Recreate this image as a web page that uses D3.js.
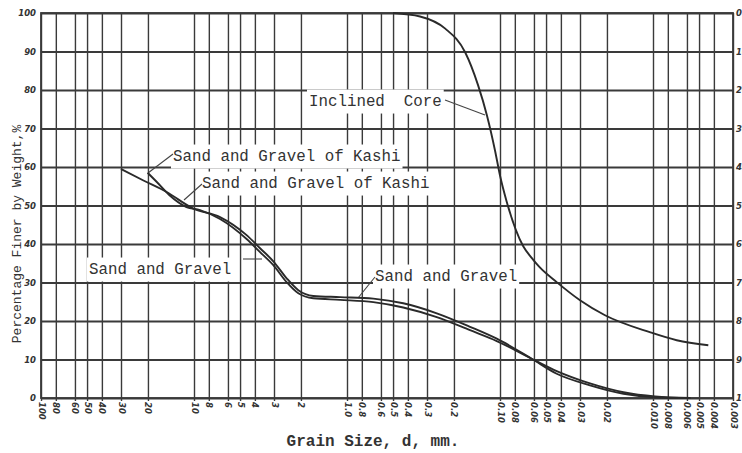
<!DOCTYPE html>
<html>
<head>
<meta charset="utf-8">
<script src="https://cdn.jsdelivr.net/npm/d3@7"></script>
<style>
  html, body { margin: 0; padding: 0; background: #fff; }
  svg { display: block; }
</style>
</head>
<body>
<svg id="chart" width="742" height="453"></svg>
<script>
// ---------- data ----------
const xTickValues = [100,80,60,50,40,30,20,10,8,6,5,4,3,2,1.0,0.8,0.6,0.5,0.4,0.3,0.2,0.10,0.08,0.06,0.05,0.04,0.03,0.02,0.010,0.008,0.006,0.005,0.004,0.003];
const xTickLabels = ["100","80","60","50","40","30","20","10","8","6","5","4","3","2","1.0","0.8","0.6","0.5","0.4","0.3","0.2","0.10","0.08","0.06","0.05","0.04","0.03","0.02","0.010","0.008","0.006","0.005","0.004","0.003"];
const yTickValues = [0,10,20,30,40,50,60,70,80,90,100];
const yRightLabels = ["100","90","80","70","60","50","40","30","20","10","0"];

const coreSize = [0.5, 0.333, 0.229, 0.169, 0.139, 0.1217, 0.1078, 0.1, 0.0904, 0.0705, 0.0621, 0.0555, 0.0426, 0.030, 0.0206, 0.0105, 0.0070, 0.00435];
const corePct  = [100, 99.1, 96.0, 89.8, 81.2, 73.4, 64.3, 57.8, 51.0, 39.4, 36.4, 34.1, 30.1, 25.4, 21.5, 17.1, 15.0, 13.7];

const kashiSize = [30, 21.4, 15.1, 10.1, 6.76, 4.53, 3.70, 3.03, 2.48, 2.08, 1.66, 1.11, 0.673, 0.429, 0.259, 0.157, 0.105, 0.0621, 0.0426, 0.0258, 0.0156, 0.0097, 0.0057];
const kashiPct  = [59.5, 56.5, 53.5, 49.2, 47.0, 42.3, 38.9, 35.5, 31.1, 28.0, 26.5, 26.2, 25.8, 24.6, 22.0, 18.5, 15.4, 10.2, 6.3, 3.3, 1.1, 0.2, 0];

const gravelSize = [20.1, 17.5, 14.4, 11.2, 9.14, 6.76, 4.53, 3.70, 3.03, 2.48, 2.08, 1.66, 1.11, 0.673, 0.429, 0.259, 0.157, 0.105, 0.0621, 0.0426, 0.0258, 0.0156, 0.0097, 0.0057];
const gravelPct  = [58.5, 56.1, 52.6, 49.6, 48.8, 46.5, 41.3, 37.9, 34.5, 30.1, 27.2, 25.9, 25.5, 24.9, 23.5, 21.0, 17.6, 14.8, 10.2, 7.0, 3.8, 1.5, 0.4, 0];

// ---------- layout ----------
const pLeft = 41, pRight = 733, pTop = 13, pBottom = 398;
const ink = "#3a3a3a";
const mono = "'Liberation Mono', 'DejaVu Sans Mono', monospace";
const tickFont = "italic 700 8.5px 'DejaVu Sans'";

const svg = d3.select("#chart");
const x = d3.scaleLog().domain([100, 0.003]).range([pLeft, pRight]);
const y = d3.scaleLinear().domain([0, 100]).range([pBottom, pTop]);

// vertical grid + bottom labels
const xAxis = d3.axisBottom(x).tickValues(xTickValues)
  .tickSize(-(pBottom - pTop)).tickSizeOuter(0)
  .tickFormat((d, i) => xTickLabels[i]);
const gx = svg.append("g").attr("transform", `translate(0,${pBottom})`).call(xAxis);
gx.select(".domain").remove();
gx.selectAll(".tick line").attr("stroke", ink).attr("stroke-width", 1.4).attr("y1", 3);
gx.selectAll(".tick text")
  .attr("transform", "rotate(90)")
  .attr("x", 4).attr("y", 0).attr("dy", "0.35em")
  .attr("text-anchor", "start")
  .attr("fill", "#333")
  .style("font", tickFont);

// horizontal grid + left labels
const yAxis = d3.axisLeft(y).tickValues(yTickValues)
  .tickSize(-(pRight - pLeft)).tickSizeOuter(0).tickFormat(d3.format("d"));
const gy = svg.append("g").attr("transform", `translate(${pLeft},0)`).call(yAxis);
gy.select(".domain").remove();
gy.selectAll(".tick line").attr("stroke", ink).attr("stroke-width", 1.8);
gy.selectAll(".tick text").attr("x", -5).attr("fill", "#333")
  .style("font", tickFont);

// right labels (partly beyond the picture edge, as in the source scan)
const yAxisR = d3.axisRight(y).tickValues(yTickValues).tickSize(0)
  .tickFormat((d, i) => yRightLabels[i]);
const gyr = svg.append("g").attr("transform", `translate(${pRight},0)`).call(yAxisR);
gyr.select(".domain").remove();
gyr.selectAll(".tick text").attr("x", 3).attr("fill", "#333")
  .style("font", tickFont);

// frame
svg.append("rect").attr("x", pLeft).attr("y", pTop)
  .attr("width", pRight - pLeft).attr("height", pBottom - pTop)
  .attr("fill", "none").attr("stroke", ink).attr("stroke-width", 1.8);

// ---------- annotation backgrounds + texts ----------
const notes = [
  {t: "Inclined  Core", x: 309, y: 100},
  {t: "Sand and Gravel of Kashi", x: 173, y: 155},
  {t: "Sand and Gravel of Kashi", x: 202, y: 182},
  {t: "Sand and Gravel", x: 89, y: 268},
  {t: "Sand and Gravel", x: 375, y: 275}
];
const noteG = svg.append("g");
notes.forEach(n => {
  const txt = noteG.append("text").attr("x", n.x).attr("y", n.y)
    .attr("dy", "0.35em").attr("fill", "#333")
    .style("font", `15.8px ${mono}`).style("white-space", "pre").text(n.t);
  const bb = txt.node().getBBox();
  noteG.insert("rect", "text").attr("x", bb.x - 2).attr("y", bb.y - 3)
    .attr("width", bb.width + 4).attr("height", bb.height + 6).attr("fill", "#fff");
});

// leader lines
const leaders = [
  [[445, 100], [485, 115]],
  [[173, 154], [148, 173]],
  [[202, 184], [184, 200]],
  [[243, 259], [262, 259]],
  [[375, 277], [358, 298]]
];
leaders.forEach(l => {
  svg.append("line").attr("x1", l[0][0]).attr("y1", l[0][1])
    .attr("x2", l[1][0]).attr("y2", l[1][1])
    .attr("stroke", "#444").attr("stroke-width", 1.1);
});

// ---------- curves ----------
const line = d3.line().x(d => x(d[0])).y(d => y(d[1])).curve(d3.curveMonotoneX);
const series = [
  d3.zip(coreSize, corePct),
  d3.zip(kashiSize, kashiPct),
  d3.zip(gravelSize, gravelPct)
];
series.forEach(s => {
  svg.append("path").datum(s).attr("d", line)
    .attr("fill", "none").attr("stroke", "#2a2a2a").attr("stroke-width", 1.9);
});

// ---------- axis titles ----------
svg.append("text").attr("x", 373).attr("y", 440).attr("text-anchor", "middle")
  .attr("dy", "0.35em").attr("fill", "#333")
  .style("font", `700 16px ${mono}`).text("Grain Size, d, mm.");

svg.append("text").attr("transform", "translate(16,234) rotate(-90)")
  .attr("text-anchor", "middle").attr("dy", "0.35em").attr("fill", "#333")
  .style("font", `13px ${mono}`).text("Percentage Finer by Weight,%");
</script>
</body>
</html>
